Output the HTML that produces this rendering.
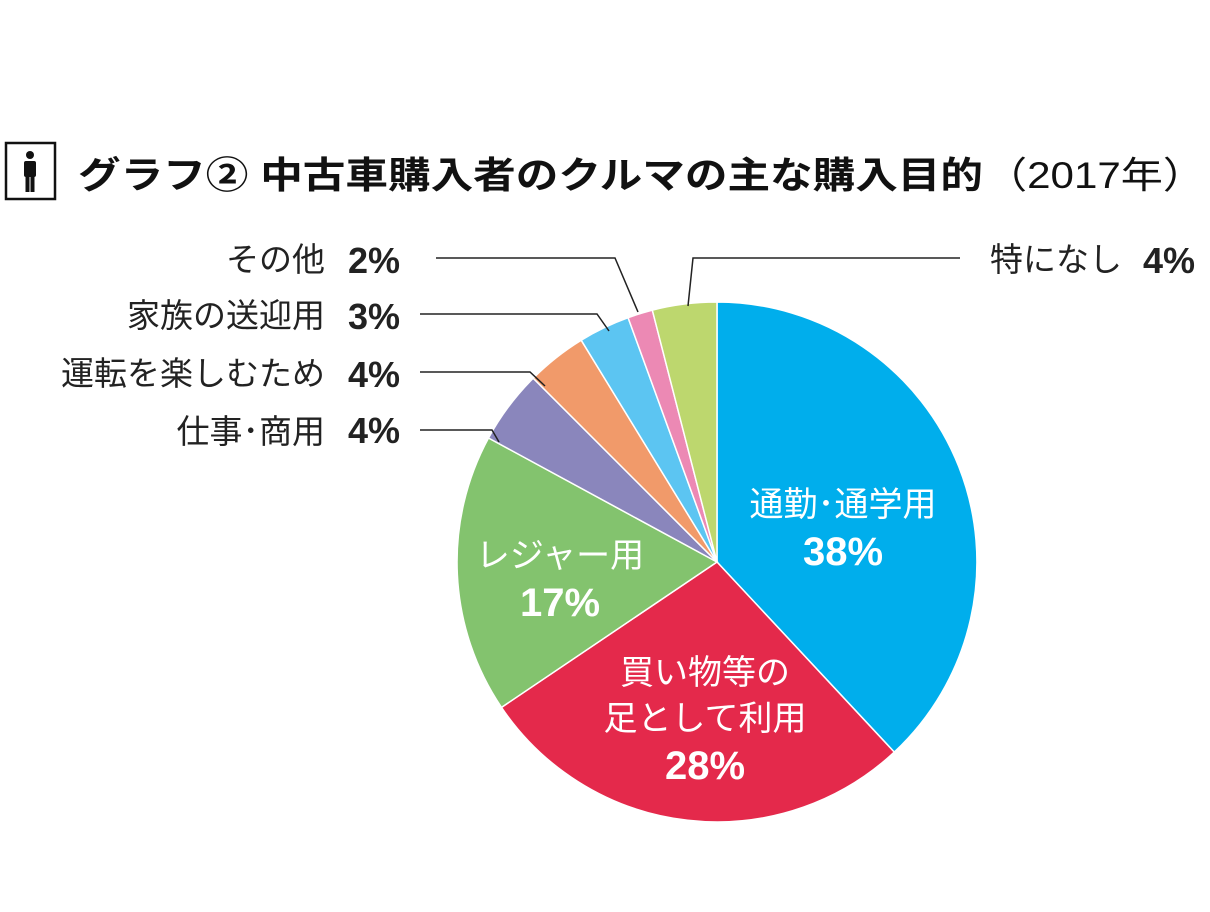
<!DOCTYPE html>
<html><head><meta charset="utf-8"><style>
html,body{margin:0;padding:0;background:#fff;}
svg text{font-family:"Liberation Sans","Noto Sans CJK JP",sans-serif;}
</style></head><body>
<svg width="1210" height="907" viewBox="0 0 1210 907" xmlns="http://www.w3.org/2000/svg">
<rect x="6" y="143" width="49" height="56" fill="none" stroke="#111" stroke-width="2.5"/>
<circle cx="30" cy="155" r="4" fill="#111"/>
<rect x="24" y="161" width="12" height="16" rx="2" fill="#111"/>
<rect x="25.5" y="175" width="4" height="17" fill="#111"/>
<rect x="30.5" y="175" width="4" height="17" fill="#111"/>
<text x="78" y="188" font-size="37" font-weight="bold" fill="#111" textLength="905" lengthAdjust="spacingAndGlyphs">グラフ② 中古車購入者のクルマの主な購入目的</text>
<text x="985" y="188" font-size="37" fill="#111" textLength="220" lengthAdjust="spacingAndGlyphs">（2017年）</text>

<g stroke="#fff" stroke-width="1.5">
<path d="M717,562 L717,302 A260,260 0 0 1 894.3,752.1 Z" fill="#00AEEC"/>
<path d="M717,562 L894.3,752.1 A260,260 0 0 1 501.5,707.4 Z" fill="#E4294B"/>
<path d="M717,562 L501.5,707.4 A260,260 0 0 1 488.5,438 Z" fill="#83C36E"/>
<path d="M717,562 L488.5,438 A260,260 0 0 1 533.2,378.2 Z" fill="#8A86BC"/>
<path d="M717,562 L533.2,378.2 A260,260 0 0 1 581.2,340.2 Z" fill="#F19A6A"/>
<path d="M717,562 L581.2,340.2 A260,260 0 0 1 628.1,317.7 Z" fill="#5CC5F2"/>
<path d="M717,562 L628.1,317.7 A260,260 0 0 1 652.3,310.1 Z" fill="#EC89B4"/>
<path d="M717,562 L652.3,310.1 A260,260 0 0 1 717,302 Z" fill="#BDD76E"/>
</g>

<g stroke="#222" stroke-width="1.5" fill="none">
<polyline points="436,258 615,258 638,312"/>
<polyline points="420,314 597,314 609,331"/>
<polyline points="420,372 530,372 545,386"/>
<polyline points="420,430 492,430 499,442"/>
<polyline points="960,258 693,258 688,306"/>
</g>

<g font-size="33" fill="#222">
<text x="325" y="271" text-anchor="end">その他</text>
<text x="325" y="327" text-anchor="end">家族の送迎用</text>
<text x="325" y="385" text-anchor="end">運転を楽しむため</text>
<text x="325" y="443" text-anchor="end">仕事･商用</text>
<text x="1122" y="271" text-anchor="end">特になし</text>
</g>
<g font-size="36" font-weight="bold" fill="#222">
<text x="348" y="273">2%</text>
<text x="348" y="329">3%</text>
<text x="348" y="387">4%</text>
<text x="348" y="443">4%</text>
<text x="1143" y="273">4%</text>
</g>
<g fill="#fff" text-anchor="middle">
<text x="843" y="516" font-size="34">通勤･通学用</text>
<text x="843" y="565" font-size="40" font-weight="bold">38%</text>
<text x="560" y="567" font-size="34">レジャー用</text>
<text x="560" y="616" font-size="40" font-weight="bold">17%</text>
<text x="705" y="684" font-size="34">買い物等の</text>
<text x="705" y="730" font-size="34">足として利用</text>
<text x="705" y="779" font-size="40" font-weight="bold">28%</text>
</g>
</svg>
</body></html>
